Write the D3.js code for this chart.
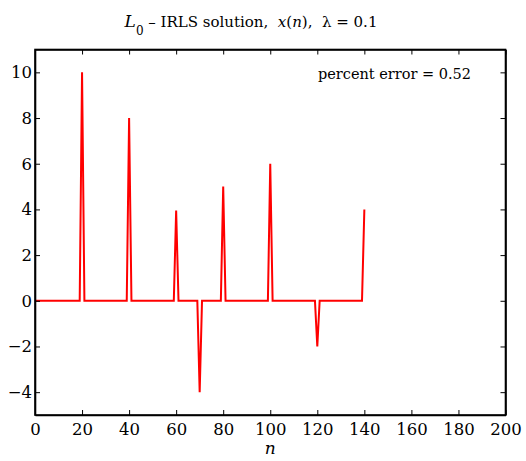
<!DOCTYPE html>
<html>
<head>
<meta charset="utf-8">
<script src="https://cdn.jsdelivr.net/npm/d3@7"></script>
<style>
  body { margin: 0; background: #fff; }
  svg { font-family: "DejaVu Serif", "Liberation Serif", serif; }
</style>
</head>
<body>
<svg id="chart" width="526" height="461"></svg>
<script>
// ---- data ----
const nStart = 0;
const nEnd = 140;
const spikeN = [20, 40, 60, 70, 80, 100, 120, 140];
const spikeValues = [10, 8, 3.95, -4, 5, 6, -2, 4];
const xTicks = [0, 20, 40, 60, 80, 100, 120, 140, 160, 180, 200];
const yTicks = [-4, -2, 0, 2, 4, 6, 8, 10];
const xDomain = [0, 200];
const yDomain = [-5, 11];
const annotation = "percent error = 0.52";

// build the signal x(n)
const signal = [];
for (let n = nStart; n <= nEnd; n++) {
  const k = spikeN.indexOf(n);
  signal.push({ n: n, v: k >= 0 ? spikeValues[k] : 0 });
}

const svg = d3.select("#chart");
const margin = { left: 35, right: 20.5, top: 49.5, bottom: 46 };
const W = 526, H = 461;
const x = d3.scaleLinear().domain(xDomain).range([margin.left, W - margin.right]);
const y = d3.scaleLinear().domain(yDomain).range([H - margin.bottom, margin.top]);

// line
svg.append("path")
  .datum(signal)
  .attr("fill", "none")
  .attr("stroke", "#ff0000")
  .attr("stroke-width", 2)
  .attr("stroke-linejoin", "miter")
  .attr("d", d3.line().x(d => x(d.n)).y(d => y(d.v)));

// axes (ticks inward)
const tickLen = 5;
const gBottom = svg.append("g").attr("transform", `translate(0,${y.range()[0]})`)
  .call(d3.axisBottom(x).tickValues(xTicks).tickSizeInner(-tickLen).tickSizeOuter(0).tickPadding(8.5));
const gTop = svg.append("g").attr("transform", `translate(0,${y.range()[1]})`)
  .call(d3.axisTop(x).tickValues(xTicks).tickSizeInner(-tickLen).tickSizeOuter(0).tickFormat(""));
const gLeft = svg.append("g").attr("transform", `translate(${x.range()[0]},0)`)
  .call(d3.axisLeft(y).tickValues(yTicks).tickSizeInner(-tickLen).tickSizeOuter(0).tickPadding(3)
    .tickFormat(d => d < 0 ? "\u2212" + Math.abs(d) : d));
const gRight = svg.append("g").attr("transform", `translate(${x.range()[1]},0)`)
  .call(d3.axisRight(y).tickValues(yTicks).tickSizeInner(-tickLen).tickSizeOuter(0).tickFormat(""));

[gBottom, gTop, gLeft, gRight].forEach(g => {
  g.select(".domain").attr("stroke", "#000").attr("stroke-width", 1.6);
  g.selectAll(".tick line").attr("stroke", "#000").attr("stroke-width", 1);
  g.selectAll("text").attr("font-family", "DejaVu Serif, serif").attr("font-size", 16.5).attr("fill", "#000");
});
svg.append("rect")
  .attr("x", x.range()[0]).attr("y", y.range()[1])
  .attr("width", x.range()[1] - x.range()[0]).attr("height", y.range()[0] - y.range()[1])
  .attr("fill", "none").attr("stroke", "#000").attr("stroke-width", 1.6);

// title
const title = svg.append("text").attr("x", 251).attr("y", 26.5)
  .attr("text-anchor", "middle").attr("font-size", 15).attr("fill", "#000")
  .style("white-space", "pre");
title.append("tspan").attr("font-style", "italic").attr("font-size", 17).text("L");
title.append("tspan").attr("font-size", 12).attr("dy", 8).text("0");
title.append("tspan").attr("dy", -8).text(" \u2013 IRLS solution,  ");
title.append("tspan").attr("font-style", "italic").text("x");
title.append("tspan").text("(");
title.append("tspan").attr("font-style", "italic").text("n");
title.append("tspan").text("),  \u03bb = 0.1");

// annotation
svg.append("text").attr("x", 471).attr("y", 79).attr("text-anchor", "end")
  .attr("font-size", 14.5).attr("fill", "#000").text(annotation);

// x label
svg.append("text").attr("x", x(100)).attr("y", 454).attr("text-anchor", "middle")
  .attr("font-size", 17).attr("font-style", "italic").attr("fill", "#000").text("n");
</script>
</body>
</html>
